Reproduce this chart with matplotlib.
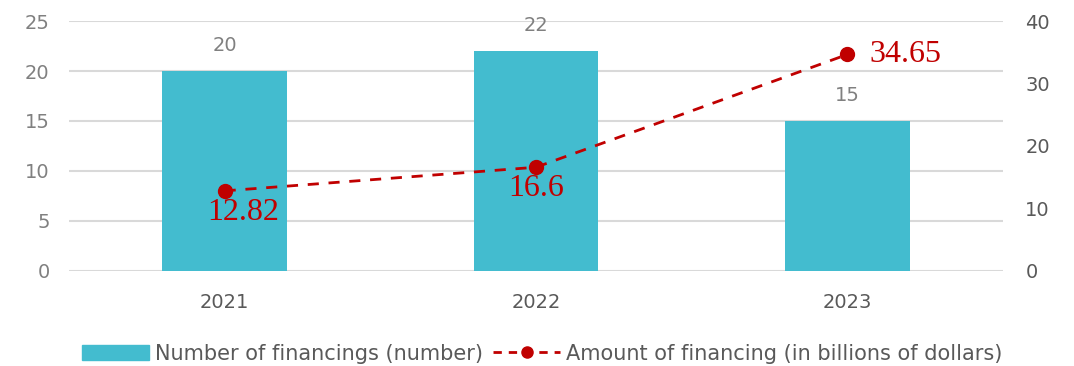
import matplotlib.pyplot as plt
from matplotlib.patches import Patch
from matplotlib.lines import Line2D

years = ['2021', '2022', '2023']
counts = [20, 22, 15]
amounts = [12.82, 16.6, 34.65]
amount_labels = ['12.82', '16.6', '34.65']

bar_color = '#43BCCF'
red = '#C00000'
grid_c = '#D9D9D9'

plt.rcParams['font.family'] = ['DejaVu Sans']

fig = plt.figure(figsize=(10.74, 3.66), dpi=100)
ax = fig.add_axes([0.0642, 0.2596, 0.8698, 0.683])
ax2 = ax.twinx()

x = range(len(years))
ax.bar(x, counts, width=0.4, color=bar_color, zorder=2)
for i, c in enumerate(counts):
    ax.text(i, c + 1.6, str(c), ha='center', va='bottom', fontsize=14, color='#808080')

ax.set_xlim(-0.5, 2.5)
ax.set_ylim(0, 25)
ax.set_yticks([0, 5, 10, 15, 20, 25])
ax.set_xticks(list(x))
ax.set_xticklabels(years)
ax.yaxis.grid(True, color=grid_c, linewidth=1.5, zorder=0)
ax.set_axisbelow(True)
ax.tick_params(axis='both', length=0, labelsize=14, labelcolor='#808080')
ax.tick_params(axis='y', pad=14)
ax.tick_params(axis='x', pad=16, labelcolor='#595959')
for s in ax.spines.values():
    s.set_visible(False)

ax2.plot(x, amounts, color=red, linestyle='--', linewidth=2, dashes=(4, 3.5),
         marker='o', markersize=10, zorder=3)
ax2.set_ylim(0, 40)
ax2.set_yticks([0, 10, 20, 30, 40])
ax2.tick_params(axis='y', length=0, labelsize=14, labelcolor='#595959', pad=16)
for s in ax2.spines.values():
    s.set_visible(False)

ax2.text(0 + 0.06, amounts[0] - 1.1, amount_labels[0], ha='center', va='top',
         fontsize=23, color=red, family='Liberation Serif')
ax2.text(1 + 0.0, amounts[1] - 1.1, amount_labels[1], ha='center', va='top',
         fontsize=23, color=red, family='Liberation Serif')
ax2.text(2 + 0.07, amounts[2], amount_labels[2], ha='left', va='center',
         fontsize=23, color=red, family='Liberation Serif')

handles = [Patch(color=bar_color),
           Line2D([], [], color=red, linestyle='--', dashes=(3, 2.5), linewidth=2,
                  marker='o', markersize=8)]
fig.legend(handles, ['Number of financings (number)', 'Amount of financing (in billions of dollars)'],
           loc='lower center', bbox_to_anchor=(0.505, -0.045), ncol=2, frameon=False,
           fontsize=15, labelcolor='#595959', handlelength=3.2, handleheight=0.7,
           handletextpad=0.3, columnspacing=0.5)

fig.savefig('out.png', dpi=100)
